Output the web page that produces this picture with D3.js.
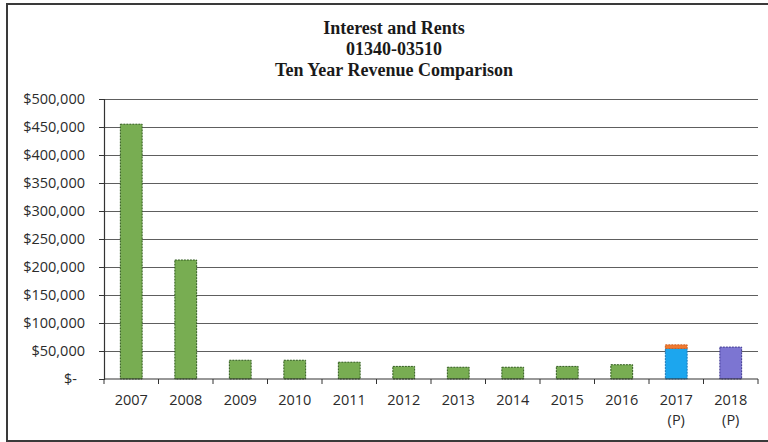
<!DOCTYPE html>
<html>
<head>
<meta charset="utf-8">
<script src="https://cdn.jsdelivr.net/npm/d3@7"></script>
<style>
  html, body { margin: 0; padding: 0; background: #fff; }
  svg { display: block; }
</style>
</head>
<body>
<svg id="chart" width="768" height="442"></svg>
<script>
// Fiscal years and the second line of each axis label
const years = ["2007", "2008", "2009", "2010", "2011", "2012", "2013", "2014", "2015", "2016", "2017", "2018"];
const yearNotes = ["", "", "", "", "", "", "", "", "", "", "(P)", "(P)"];

// Revenue per year, one array per stacked series
const actualRevenue   = [455000, 212500, 33500, 33500, 30000, 22500, 21000, 21000, 22500, 25500, 0, 0];
const projectedBase   = [0, 0, 0, 0, 0, 0, 0, 0, 0, 0, 54500, 0];
const projectedExtra  = [0, 0, 0, 0, 0, 0, 0, 0, 0, 0, 6500, 0];
const budgetRevenue   = [0, 0, 0, 0, 0, 0, 0, 0, 0, 0, 0, 57000];

// Y-axis tick values and labels
const yTicks = [0, 50000, 100000, 150000, 200000, 250000, 300000, 350000, 400000, 450000, 500000];
const yTickLabels = ["$-", "$50,000", "$100,000", "$150,000", "$200,000", "$250,000", "$300,000", "$350,000", "$400,000", "$450,000", "$500,000"];

const titleLines = ["Interest and Rents", "01340-03510", "Ten Year Revenue Comparison"];

const seriesKeys = ["actual", "base", "extra", "budget"];
const seriesStyle = {
  actual: { fill: "#78ad52", stroke: "#2f5a1c" },
  base:   { fill: "#1ca6ee", stroke: "#1a78b8" },
  extra:  { fill: "#f07a32", stroke: "#d0601e" },
  budget: { fill: "#7c75d2", stroke: "#3c3690" }
};

const rows = years.map((y, i) => ({
  year: y,
  note: yearNotes[i],
  actual: actualRevenue[i],
  base: projectedBase[i],
  extra: projectedExtra[i],
  budget: budgetRevenue[i]
}));

const svg = d3.select("#chart");
const labelFont = "'Open Sans', 'Noto Sans', sans-serif";

// Outer chart frame
svg.append("rect")
  .attr("x", 7).attr("y", 4)
  .attr("width", 770).attr("height", 437)
  .attr("fill", "#fff")
  .attr("stroke", "#3a3a3a")
  .attr("stroke-width", 2);

// Title
const title = svg.append("text")
  .attr("text-anchor", "middle")
  .attr("font-family", "'Liberation Serif', 'Times New Roman', serif")
  .attr("font-weight", "bold")
  .attr("font-size", 18)
  .attr("fill", "#1a1a1a");
titleLines.forEach((t, i) => {
  title.append("tspan")
    .attr("x", 394)
    .attr("y", 34 + i * 21)
    .text(t);
});

const plot = { left: 104, right: 758, top: 99, bottom: 379 };

const x = d3.scaleBand()
  .domain(years)
  .range([plot.left, plot.right])
  .paddingInner(0.6)
  .paddingOuter(0.3);

const y = d3.scaleLinear()
  .domain([0, 500000])
  .range([plot.bottom, plot.top]);

// Horizontal gridlines
svg.append("g")
  .selectAll("line")
  .data(yTicks.filter(v => v > 0))
  .join("line")
  .attr("x1", plot.left).attr("x2", plot.right)
  .attr("y1", d => Math.round(y(d)) + 0.5)
  .attr("y2", d => Math.round(y(d)) + 0.5)
  .attr("stroke", "#5e5e5e")
  .attr("stroke-width", 1);

// Stacked bars
const stacked = d3.stack().keys(seriesKeys)(rows);
svg.append("g")
  .selectAll("g")
  .data(stacked)
  .join("g")
  .attr("fill", d => seriesStyle[d.key].fill)
  .attr("stroke", d => seriesStyle[d.key].stroke)
  .attr("stroke-width", 1)
  .attr("stroke-dasharray", "2,1")
  .selectAll("rect")
  .data(d => d.filter(p => p[1] - p[0] > 0).map(p => ({ p, year: p.data.year })))
  .join("rect")
  .attr("x", d => x(d.year))
  .attr("width", x.bandwidth())
  .attr("y", d => y(d.p[1]))
  .attr("height", d => y(d.p[0]) - y(d.p[1]));

// Y axis
const yAxis = d3.axisLeft(y)
  .tickValues(yTicks)
  .tickSize(5)
  .tickFormat((d, i) => yTickLabels[i]);
const yG = svg.append("g")
  .attr("transform", `translate(${plot.left},0)`)
  .call(yAxis);
yG.select(".domain").attr("stroke", "#333").attr("stroke-width", 1.2);
yG.selectAll(".tick line").attr("stroke", "#333");
yG.selectAll(".tick text")
  .attr("font-family", labelFont)
  .attr("font-size", 14.5)
  .attr("fill", "#2b2b2b")
  .attr("x", d => d === 0 ? -27 : -19);

// X axis with ticks on category boundaries
const xAxisG = svg.append("g")
  .attr("transform", `translate(0,${plot.bottom})`);
xAxisG.append("line")
  .attr("x1", plot.left).attr("x2", plot.right)
  .attr("stroke", "#333").attr("stroke-width", 1.2);
const step = x.step();
xAxisG.selectAll("line.tick")
  .data(d3.range(years.length + 1))
  .join("line")
  .attr("class", "tick")
  .attr("x1", i => plot.left + i * step)
  .attr("x2", i => plot.left + i * step)
  .attr("y1", 0).attr("y2", 5)
  .attr("stroke", "#333");

const xLabels = xAxisG.selectAll("text")
  .data(rows)
  .join("text")
  .attr("text-anchor", "middle")
  .attr("font-family", labelFont)
  .attr("font-size", 14.5)
  .attr("fill", "#2b2b2b");
xLabels.append("tspan")
  .attr("x", d => x(d.year) + x.bandwidth() / 2)
  .attr("y", 26)
  .text(d => d.year);
xLabels.append("tspan")
  .attr("x", d => x(d.year) + x.bandwidth() / 2)
  .attr("y", 46)
  .text(d => d.note);
</script>
</body>
</html>
